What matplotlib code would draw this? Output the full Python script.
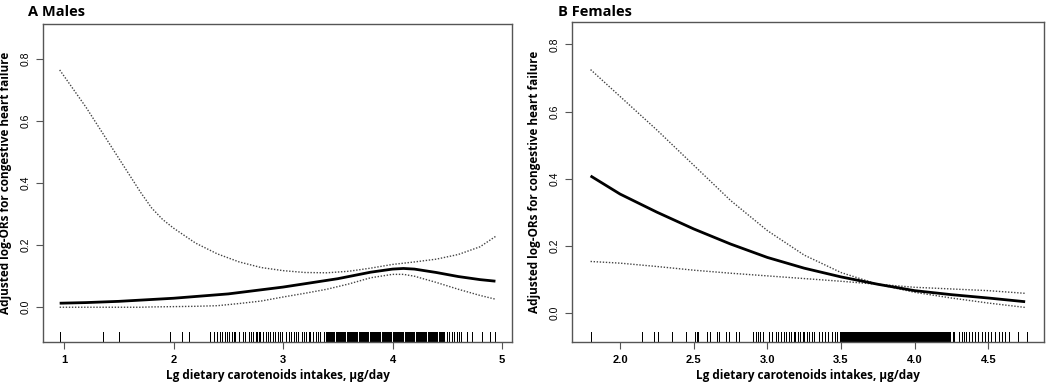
import matplotlib
matplotlib.use("Agg")
import matplotlib.pyplot as plt
import numpy as np

# ---------------- data ----------------
males_x = [0.96, 1.2, 1.5, 2.0, 2.5, 3.0, 3.5, 3.8, 4.0, 4.1, 4.2, 4.4, 4.6, 4.8, 4.94]
males_fit = [0.013, 0.015, 0.019, 0.029, 0.043, 0.065, 0.092, 0.113, 0.123, 0.125, 0.123, 0.112, 0.099, 0.089, 0.084]

males_ci_x = [0.96, 1.2, 1.4, 1.6, 1.7, 1.8, 1.9, 2.0, 2.2, 2.4, 2.6, 2.8, 3.0, 3.2, 3.4, 3.6, 3.8, 4.0, 4.1, 4.2, 4.4, 4.6, 4.8, 4.94]
males_upper = [0.765, 0.645, 0.535, 0.425, 0.37, 0.32, 0.283, 0.255, 0.207, 0.172, 0.146, 0.128, 0.118, 0.112, 0.111, 0.116, 0.126, 0.138, 0.142, 0.146, 0.155, 0.170, 0.195, 0.228]
males_lower = [0.0, 0.0, 0.0, 0.0, 0.0, 0.001, 0.0015, 0.002, 0.003, 0.005, 0.012, 0.020, 0.033, 0.045, 0.058, 0.075, 0.095, 0.106, 0.106, 0.100, 0.080, 0.058, 0.038, 0.026]

males_rug = [0.96, 1.36, 1.50, 1.97, 2.08, 2.14,
             2.33, 2.37, 2.40, 2.42, 2.44, 2.47, 2.49, 2.51, 2.53, 2.55, 2.56, 2.60, 2.63, 2.65,
             2.69, 2.71, 2.73, 2.75, 2.76, 2.78, 2.79, 2.82, 2.84, 2.86, 2.88, 2.91, 2.93, 2.95, 2.97, 2.99,
             3.03, 3.05, 3.07, 3.10, 3.12, 3.14, 3.17, 3.19, 3.21, 3.24, 3.25, 3.27, 3.30, 3.32, 3.34, 3.37,
             3.39, 3.40, 3.41, 3.42, 3.43, 3.44, 3.45, 3.46, 3.47, 3.48, 3.49, 3.50, 3.51, 3.52, 3.53, 3.54,
             3.55, 3.56, 3.57, 3.58, 3.59, 3.60, 3.61, 3.62, 3.63, 3.64, 3.65, 3.66, 3.67, 3.68, 3.69, 3.70,
             3.71, 3.72, 3.73, 3.74, 3.75, 3.76, 3.77, 3.78, 3.79, 3.80, 3.81, 3.82, 3.83, 3.84, 3.85, 3.86,
             3.87, 3.88, 3.89, 3.90, 3.91, 3.92, 3.93, 3.94, 3.95, 3.96, 3.97, 3.98, 3.99, 4.00, 4.01, 4.02,
             4.03, 4.04, 4.05, 4.06, 4.07, 4.08, 4.09, 4.10, 4.11, 4.12, 4.13, 4.14, 4.15, 4.16, 4.17, 4.18,
             4.19, 4.20, 4.21, 4.22, 4.23, 4.24, 4.25, 4.26, 4.27, 4.28, 4.29, 4.30, 4.31, 4.32, 4.33, 4.34,
             4.35, 4.36, 4.37, 4.38, 4.39, 4.40, 4.41, 4.42, 4.43, 4.44, 4.45, 4.46,
             4.47, 4.50, 4.52, 4.54, 4.56, 4.59, 4.61, 4.63,
             4.68, 4.73, 4.82, 4.89, 4.94]

females_x = [1.80, 2.0, 2.25, 2.5, 2.75, 3.0, 3.25, 3.5, 3.75, 4.0, 4.25, 4.5, 4.75]
females_fit = [0.408, 0.354, 0.300, 0.250, 0.205, 0.165, 0.133, 0.107, 0.085, 0.066, 0.054, 0.044, 0.033]
females_upper = [0.725, 0.645, 0.545, 0.440, 0.335, 0.245, 0.172, 0.120, 0.085, 0.061, 0.044, 0.029, 0.016]
females_lower = [0.153, 0.148, 0.138, 0.127, 0.118, 0.110, 0.102, 0.094, 0.085, 0.076, 0.071, 0.066, 0.058]

females_rug = [1.80, 2.15, 2.23, 2.26, 2.35, 2.45, 2.51, 2.52, 2.53, 2.59, 2.61, 2.66, 2.67, 2.72, 2.74, 2.79, 2.81,
               2.905, 2.92, 2.935, 2.95, 2.97, 3.01, 3.03, 3.06, 3.075, 3.09, 3.11, 3.13, 3.15, 3.16, 3.18,
               3.19, 3.21, 3.22, 3.24, 3.25, 3.27, 3.28, 3.30, 3.32, 3.35, 3.37, 3.39, 3.41, 3.44, 3.46, 3.475,
               3.49, 3.495, 3.50, 3.505, 3.51, 3.515, 3.52, 3.525, 3.53, 3.535, 3.54, 3.545, 3.55, 3.555, 3.56, 3.565,
               3.57, 3.575, 3.58, 3.585, 3.59, 3.595, 3.60, 3.605, 3.61, 3.615, 3.62, 3.625, 3.63, 3.635, 3.64, 3.645,
               3.65, 3.655, 3.66, 3.665, 3.67, 3.675, 3.68, 3.685, 3.69, 3.695, 3.70, 3.705, 3.71, 3.715, 3.72, 3.725,
               3.73, 3.735, 3.74, 3.745, 3.75, 3.755, 3.76, 3.765, 3.77, 3.775, 3.78, 3.785, 3.79, 3.795, 3.80, 3.805,
               3.81, 3.815, 3.82, 3.825, 3.83, 3.835, 3.84, 3.845, 3.85, 3.855, 3.86, 3.865, 3.87, 3.875, 3.88, 3.885,
               3.89, 3.895, 3.90, 3.905, 3.91, 3.915, 3.92, 3.925, 3.93, 3.935, 3.94, 3.945, 3.95, 3.955, 3.96, 3.965,
               3.97, 3.975, 3.98, 3.985, 3.99, 3.995, 4.00, 4.005, 4.01, 4.015, 4.02, 4.025, 4.03, 4.035, 4.04, 4.045,
               4.05, 4.055, 4.06, 4.065, 4.07, 4.075, 4.08, 4.085, 4.09, 4.095, 4.10, 4.105, 4.11, 4.115, 4.12, 4.125,
               4.13, 4.135, 4.14, 4.145, 4.15, 4.155, 4.16, 4.165, 4.17, 4.175, 4.18, 4.185, 4.19, 4.195, 4.20, 4.205,
               4.21, 4.215, 4.22, 4.225, 4.23, 4.235, 4.24,
               4.26, 4.27, 4.30, 4.32, 4.335, 4.35, 4.37, 4.39, 4.41, 4.43, 4.455, 4.48, 4.50, 4.52, 4.545,
               4.57, 4.59, 4.61, 4.64,
               4.70, 4.765]

males_xticks = [1, 2, 3, 4, 5]
males_xticklabels = ["1", "2", "3", "4", "5"]
females_xticks = [2.0, 2.5, 3.0, 3.5, 4.0, 4.5]
females_xticklabels = ["2.0", "2.5", "3.0", "3.5", "4.0", "4.5"]
yticks = [0.0, 0.2, 0.4, 0.6, 0.8]
yticklabels = ["0.0", "0.2", "0.4", "0.6", "0.8"]

titles = ["A Males", "B Females"]
xlabel = "Lg dietary carotenoids intakes, \u03bcg/day"
ylabel = "Adjusted log-ORs for congestive heart failure"

# ---------------- figure ----------------
W, H = 1049, 383
fig = plt.figure(figsize=(W / 100, H / 100), dpi=100)

def px_axes(l, t, r, b):
    return [l / W, 1 - b / H, (r - l) / W, (b - t) / H]

axL = fig.add_axes(px_axes(42.7, 24, 512.3, 342.3))
axR = fig.add_axes(px_axes(572.3, 22.3, 1044.3, 342.3))

spine_col = "#555555"
tick_font = ["Liberation Sans", "DejaVu Sans"]
label_font = ["Open Sans", "DejaVu Sans"]

def panel(ax, x, fit, cx, up, lo, rug, xlim, ylim, xt, xtl, title, title_x):
    ax.plot(cx, up, color="#444444", lw=1.0, ls=(0, (1, 1.2)))
    ax.plot(cx, lo, color="#444444", lw=1.0, ls=(0, (1, 1.2)))
    ax.plot(x, fit, color="black", lw=2.0, solid_capstyle="butt")
    ax.vlines(rug, 0, 0.032, transform=ax.get_xaxis_transform(), color="black",
              lw=0.72, antialiased=False)
    ax.set_xlim(*xlim)
    ax.set_ylim(*ylim)
    ax.set_xticks(xt)
    ax.set_xticklabels(xtl, fontfamily=tick_font, fontsize=8, fontweight="bold")
    ax.set_yticks(yticks)
    ax.set_yticklabels(yticklabels, fontfamily=tick_font, fontsize=7.5, rotation=90, va="center")
    for s in ax.spines.values():
        s.set_color(spine_col)
        s.set_linewidth(1.0)
    ax.tick_params(axis="both", length=5, width=0.8, color=spine_col)
    ax.tick_params(axis="x", pad=4)
    ax.tick_params(axis="y", pad=4)
    ax.set_xlabel(xlabel, fontfamily=label_font, fontweight="bold", fontsize=8.5, labelpad=3)
    ax.set_ylabel(ylabel, fontfamily=label_font, fontweight="bold", fontsize=8.5, labelpad=6)
    fig.text(title_x / W, 1 - 12 / H, title, fontfamily=label_font, fontweight="bold",
             fontsize=10.5, ha="left", va="center")

panel(axL, males_x, males_fit, males_ci_x, males_upper, males_lower, males_rug,
      (0.805, 5.094), (-0.113, 0.913), males_xticks, males_xticklabels, titles[0], 28)
panel(axR, females_x, females_fit, females_x, females_upper, females_lower, females_rug,
      (1.676, 4.88), (-0.088, 0.866), females_xticks, females_xticklabels, titles[1], 558)

fig.savefig("out.png", dpi=100)
